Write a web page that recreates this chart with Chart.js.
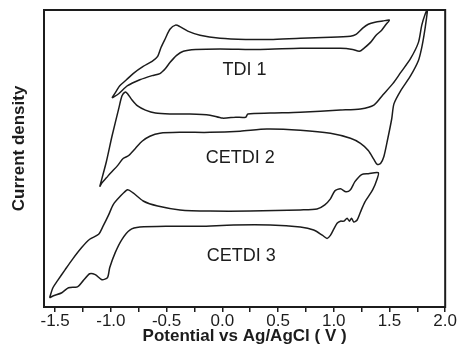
<!DOCTYPE html>
<html>
<head>
<meta charset="utf-8">
<script src="https://cdn.jsdelivr.net/npm/chart.js@4"></script>
<style>
  html, body { margin: 0; padding: 0; background: #fff; }
  #wrap { width: 458px; height: 353px; }
</style>
</head>
<body>
<div id="wrap"><canvas id="myChart" width="458" height="353"></canvas></div>
<script>
// potential (V) and current density (a.u.), each loop traced once round
const tdi1X = [-0.99, -0.95, -0.92, -0.86, -0.80, -0.71, -0.63, -0.58, -0.55, -0.51, -0.47, -0.42, -0.38, -0.31, -0.20, -0.02, 0.21, 0.43, 0.70, 0.97, 1.15, 1.20, 1.26, 1.31, 1.37, 1.44, 1.50,
  1.47, 1.43, 1.38, 1.33, 1.27, 1.23, 1.17, 1.06, 0.70, 0.34, -0.02, -0.24, -0.35, -0.41, -0.47, -0.51, -0.56, -0.63, -0.74, -0.85, -0.93, -0.99];
const tdi1Y = [7.04, 7.28, 7.45, 7.65, 7.86, 8.10, 8.27, 8.44, 8.74, 9.05, 9.35, 9.49, 9.44, 9.29, 9.15, 9.05, 9.01, 9.01, 9.05, 9.08, 9.12, 9.18, 9.39, 9.52, 9.59, 9.63, 9.66,
  9.52, 9.32, 9.15, 8.91, 8.71, 8.61, 8.67, 8.71, 8.71, 8.67, 8.69, 8.67, 8.61, 8.47, 8.23, 8.03, 7.86, 7.79, 7.65, 7.45, 7.18, 7.04];

const cetdi2X = [-1.10, -1.04, -0.99, -0.93, -0.90, -0.87, -0.85, -0.81, -0.76, -0.69, -0.60, -0.47, -0.29, -0.11, 0.00, 0.12, 0.21, 0.23, 0.43, 0.70, 1.06, 1.24, 1.36, 1.44, 1.53, 1.60, 1.69, 1.76, 1.79, 1.82, 1.84,
  1.83, 1.81, 1.79, 1.76, 1.69, 1.60, 1.54, 1.52, 1.48, 1.45, 1.42, 1.39, 1.36, 1.31, 1.24, 1.15, 0.97, 0.70, 0.40, 0.16, -0.11, -0.38, -0.56, -0.65, -0.72, -0.78, -0.84, -0.89, -0.94, -1.00, -1.04, -1.08, -1.10];
const cetdi2Y = [4.05, 4.90, 5.75, 6.67, 7.11, 7.24, 7.18, 6.97, 6.77, 6.63, 6.53, 6.50, 6.50, 6.46, 6.36, 6.39, 6.39, 6.50, 6.53, 6.56, 6.63, 6.67, 6.80, 7.14, 7.52, 7.89, 8.37, 8.91, 9.49, 9.86, 10.0,
  9.66, 9.15, 8.74, 8.30, 7.79, 7.28, 6.84, 6.33, 5.58, 5.07, 4.83, 4.80, 4.97, 5.27, 5.51, 5.68, 5.85, 5.95, 5.99, 5.92, 5.88, 5.88, 5.85, 5.75, 5.58, 5.34, 5.10, 5.00, 4.76, 4.52, 4.35, 4.18, 4.05];

const cetdi3X = [-1.55, -1.52, -1.48, -1.41, -1.34, -1.26, -1.19, -1.11, -1.07, -1.02, -0.98, -0.92, -0.85, -0.80, -0.71, -0.58, -0.38, -0.11, 0.25, 0.70, 0.85, 0.92, 0.97, 1.01, 1.06, 1.11, 1.15, 1.19, 1.25, 1.31, 1.40,
  1.39, 1.35, 1.28, 1.24, 1.21, 1.18, 1.16, 1.14, 1.12, 1.09, 1.06, 1.03, 1.00, 0.97, 0.94, 0.90, 0.82, 0.70, 0.43, 0.10, -0.20, -0.47, -0.74, -0.83, -0.90, -0.96, -1.01, -1.03, -1.08, -1.14, -1.19, -1.25, -1.30, -1.38, -1.44, -1.52, -1.55];
const cetdi3Y = [0.31, 0.65, 0.88, 1.26, 1.63, 2.01, 2.28, 2.45, 2.72, 3.10, 3.44, 3.71, 3.95, 3.84, 3.57, 3.40, 3.27, 3.23, 3.23, 3.27, 3.30, 3.44, 3.64, 3.91, 3.98, 3.88, 3.95, 4.22, 4.46, 4.49, 4.52,
  4.32, 3.95, 3.54, 3.20, 2.93, 2.86, 2.99, 2.89, 2.99, 2.89, 2.89, 2.82, 2.62, 2.41, 2.31, 2.41, 2.59, 2.69, 2.76, 2.76, 2.72, 2.72, 2.69, 2.59, 2.28, 1.84, 1.33, 0.99, 0.92, 1.09, 1.12, 0.88, 0.68, 0.65, 0.48, 0.37, 0.31];

const xTickLabels = ['-1.5', '-1.0', '-0.5', '0.0', '0.5', '1.0', '1.5', '2.0'];

const curveNames = ['TDI 1', 'CETDI 2', 'CETDI 3'];
const nameAtX = [0.20, 0.16, 0.17];
const nameAtY = [7.98, 5.03, 1.70];

function toPoints(xs, ys) {
    return xs.map((x, i) => ({ x: x, y: ys[i] }));
}

const ink = '#1c1c1c';
const fontFamily = "'Liberation Sans', Arial, sans-serif";

// frame, curve names and the y title (sits a little above the axis middle in the original)
const boxAndNames = {
    id: 'boxAndNames',
    afterDraw(chart) {
        const ctx = chart.ctx;
        const a = chart.chartArea;
        const xs = chart.scales.x;
        const ys = chart.scales.y;
        ctx.save();
        ctx.strokeStyle = ink;
        ctx.lineWidth = 2;
        ctx.strokeRect(a.left, a.top, a.right - a.left, a.bottom - a.top);
        ctx.fillStyle = ink;
        ctx.font = '18px ' + fontFamily;
        ctx.textAlign = 'center';
        ctx.textBaseline = 'middle';
        curveNames.forEach((name, i) => {
            ctx.fillText(name, xs.getPixelForValue(nameAtX[i]), ys.getPixelForValue(nameAtY[i]));
        });
        ctx.translate(19, ys.getPixelForValue(5.34));
        ctx.rotate(-Math.PI / 2);
        ctx.font = 'bold 17px ' + fontFamily;
        ctx.fillText('Current density', 0, 0);
        ctx.restore();
    }
};

const lineStyle = {
    showLine: true,
    pointRadius: 0,
    borderColor: ink,
    borderWidth: 1.5,
    tension: 0.25,
    fill: false
};

const ctx = document.getElementById('myChart').getContext('2d');
new Chart(ctx, {
    type: 'scatter',
    data: {
        datasets: [
            Object.assign({ label: curveNames[0], data: toPoints(tdi1X, tdi1Y) }, lineStyle),
            Object.assign({ label: curveNames[1], data: toPoints(cetdi2X, cetdi2Y) }, lineStyle),
            Object.assign({ label: curveNames[2], data: toPoints(cetdi3X, cetdi3Y) }, lineStyle)
        ]
    },
    options: {
        responsive: false,
        animation: false,
        devicePixelRatio: 1,
        layout: { padding: { top: 10, left: 0, right: 0, bottom: 0 } },
        plugins: {
            legend: { display: false },
            tooltip: { enabled: false }
        },
        scales: {
            x: {
                type: 'linear',
                min: -1.6,
                max: 2.0,
                border: { display: false },
                grid: {
                    drawOnChartArea: false,
                    drawTicks: true,
                    tickLength: 5,
                    color: ink,
                    lineWidth: 1.5
                },
                ticks: {
                    stepSize: 0.25,
                    includeBounds: false,
                    autoSkip: false,
                    maxRotation: 0,
                    padding: 1,
                    color: ink,
                    font: { family: fontFamily, size: 17, lineHeight: 1 },
                    callback: function (v) {
                        const k = Math.round((v + 1.5) * 2);
                        if (Math.abs(v * 2 - Math.round(v * 2)) < 1e-6 && k >= 0 && k < xTickLabels.length) {
                            return xTickLabels[k];
                        }
                        return '';
                    }
                },
                title: {
                    display: true,
                    text: 'Potential vs Ag/AgCl ( V )',
                    color: ink,
                    padding: { top: -3, bottom: 8 },
                    font: { family: fontFamily, size: 17, weight: 'bold', lineHeight: 1 }
                }
            },
            y: {
                type: 'linear',
                min: 0,
                max: 10,
                border: { display: false },
                grid: { display: false, drawTicks: false },
                ticks: { display: false },
                // keeps the left margin; the text itself is drawn by the plugin above
                title: {
                    display: true,
                    text: ' ',
                    padding: { top: 10, bottom: 17 },
                    font: { family: fontFamily, size: 17, weight: 'bold', lineHeight: 1 }
                }
            }
        }
    },
    plugins: [boxAndNames]
});
</script>
</body>
</html>
